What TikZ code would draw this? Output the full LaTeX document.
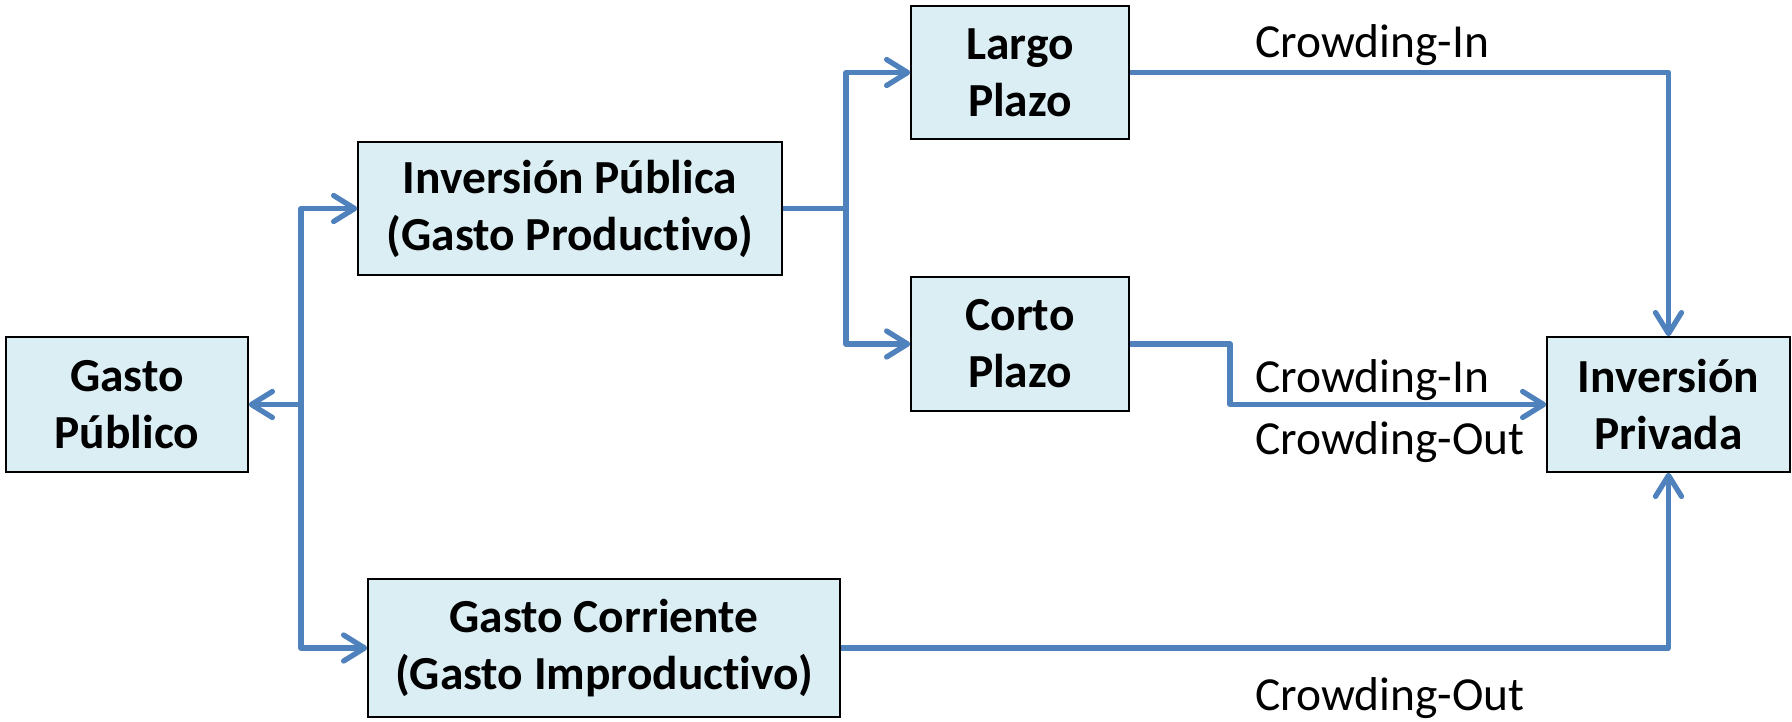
\documentclass[tikz,border=0pt]{standalone}
\usepackage{fontspec}
\setmainfont[Ligatures=NoCommon]{Carlito}
\usetikzlibrary{arrows.meta}
\definecolor{linea}{RGB}{79,129,189}
\definecolor{relleno}{RGB}{219,238,244}
\tikzset{
	caja/.style={draw=black, line width=0.9pt, fill=relleno, align=center, inner sep=0pt, font=\fontsize{27}{32.4}\selectfont\bfseries},
	flecha/.style={draw=linea, line width=3pt, line join=round, -{Straight Barb[length=0.42cm, width=0.52cm, round]}},
	tramo/.style={draw=linea, line width=3pt, line join=round},
	etiqueta/.style={inner sep=0pt, anchor=base west, font=\fontsize{27}{32.4}\selectfont}
}
\begin{document}
\begin{tikzpicture}[x=0.02cm, y=-0.02cm]
			\useasboundingbox (0,0) rectangle (1792,721);

			\node[caja, minimum width=4.84cm, minimum height=2.7cm] (gp) at (127,404.5) {Gasto\\Público};
			\node[caja, minimum width=8.48cm, minimum height=2.66cm] (ip) at (570,208.5) {Inversión Pública\\(Gasto Productivo)};
			\node[caja, minimum width=9.44cm, minimum height=2.76cm] (gc) at (604,648) {Gasto Corriente\\(Gasto Improductivo)};
			\node[caja, minimum width=4.36cm, minimum height=2.66cm] (lp) at (1020,72.5) {Largo\\Plazo};
			\node[caja, minimum width=4.36cm, minimum height=2.68cm] (cp) at (1020,344) {Corto\\Plazo};
			\node[caja, minimum width=4.86cm, minimum height=2.7cm] (ipr) at (1668.5,404.5) {Inversión\\Privada};

			\coordinate (s1) at (301,0);
			\coordinate (s2) at (846,0);
			\coordinate (s3) at (1230,0);

			\draw[flecha] (s1 |- gp.east) -- (gp.east);
			\draw[flecha] (s1 |- gp.east) |- (ip.west);
			\draw[flecha] (s1 |- gp.east) |- (gc.west);

			\draw[tramo] (ip.east) -- (s2 |- ip.east);
			\draw[flecha] (s2 |- ip.east) |- (lp.west);
			\draw[flecha] (s2 |- ip.east) |- (cp.west);

			\draw[flecha] (lp.east) -| (ipr.north);
			\draw[flecha] (cp.east) -| (s3 |- ipr.west) -- (ipr.west);
			\draw[flecha] (gc.east) -| (ipr.south);

			\foreach \i/\y/\t in {1/57/Crowding-In, 2/392/Crowding-In, 3/454/Crowding-Out, 4/710/Crowding-Out} {
				\node[etiqueta] (c\i) at (1255,\y) {\t};
			}
		\end{tikzpicture}
\end{document}
